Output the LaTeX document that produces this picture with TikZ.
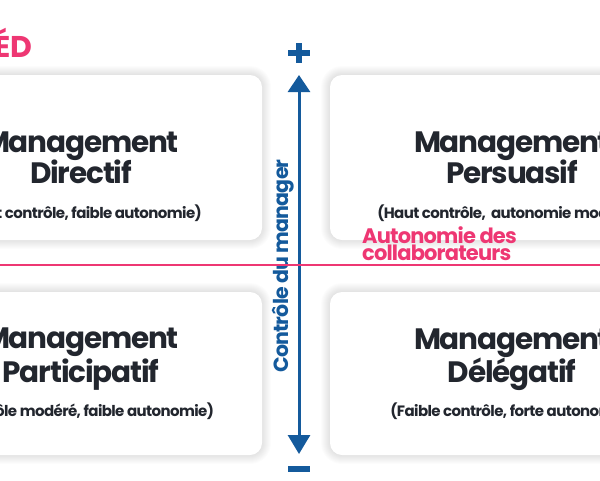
\documentclass[tikz,border=0pt]{standalone}
\usepackage{fontspec}
\setmainfont{Poppins}
\newfontfamily\qtight{Poppins}[LetterSpace=-4]
\usetikzlibrary{arrows.meta}
\definecolor{qblue}{HTML}{145A9C}
\definecolor{qpink}{HTML}{EE3773}
\definecolor{qdark}{HTML}{22262E}
\newcommand{\qshadow}[4]{%
  \foreach \d in {1,...,9}{%
    \pgfmathsetmacro{\qr}{12+\d}%
    \fill[black,opacity=0.011,rounded corners=\qr pt] (#1-\d,#2-\d) rectangle (#3+\d,#4+\d);}}
\tikzset{
  qbox/.style={rectangle, rounded corners=12pt, fill=white, inner sep=0pt, minimum width=290pt},
  ttl/.style={anchor=base, text=qdark, font=\qtight\fontsize{29.5}{31}\selectfont\bfseries, inner sep=0pt},
  sub/.style={anchor=base, text=qdark, font=\qtight\fontsize{15}{16}\selectfont\bfseries, inner sep=0pt},
}
\begin{document}
\begin{tikzpicture}[x=1pt,y=-1pt]
\path[use as bounding box, clip] (0,0) rectangle (600,480);
\fill[white] (0,0) rectangle (600,480);
% shadows
\qshadow{-28}{75}{262}{240}
\qshadow{330}{75}{620}{240}
\qshadow{-28}{292}{262}{455}
\qshadow{330}{292}{620}{455}
% boxes
\node[qbox, minimum height=165pt] (tl) at (117,157.5) {};
\node[qbox, minimum height=165pt] (tr) at (475,157.5) {};
\node[qbox, minimum height=163pt] (bl) at (117,373.5) {};
\node[qbox, minimum height=163pt] (br) at (475,373.5) {};
% titles
\node[ttl] (tla) at (81,152) {Management};
\node[ttl] (tlb) at (81,183) {Directif};
\node[sub] (tlc) at (81,218) {(Haut contrôle, faible autonomie)};
\node[ttl] (tra) at (512,152) {Management};
\node[ttl] (trb) at (512,183) {Persuasif};
\node[sub] (trc) at (512,218) {(Haut contrôle,\ \ autonomie modérée)};
\node[ttl] (bla) at (81,348) {Management};
\node[ttl] (blb) at (81,382) {Participatif};
\node[sub] (blc) at (81,416) {(Contrôle modéré, faible autonomie)};
\node[ttl] (bra) at (512,349) {Management};
\node[ttl] (brb) at (512,382) {Délégatif};
\node[sub] (brc) at (512,416) {(Faible contrôle, forte autonomie)};
% heading fragment
\node[anchor=base east, text=qpink, font=\qtight\fontsize{30}{32}\selectfont\bfseries, inner sep=0pt] (head) at (32,57) {ÉD};
% vertical axis
\coordinate (atop) at (299,75);
\coordinate (abot) at (299,454);
\draw[qblue, line width=3pt, {Triangle[width=22pt,length=19pt]}-{Triangle[width=22pt,length=17pt]}] (abot) -- (atop);
\fill[qblue] (288,50) rectangle (310,56);
\fill[qblue] (296,43) rectangle (302,63);
\fill[qblue] (288,466) rectangle (310,472);
\node[rotate=90, anchor=base, text=qblue, font=\qtight\fontsize{20.5}{22}\selectfont\bfseries, inner sep=0pt] (ylab) at (288,266) {Contrôle du manager};
% horizontal axis
\coordinate (hl) at (0,265);
\coordinate (hr) at (600,265);
\draw[qpink, line width=2.5pt] (hl) -- (hr);
\node[anchor=base west, align=left, text=qpink, font=\qtight\fontsize{21}{17}\selectfont\bfseries, inner sep=0pt] (xlab) at (362,260) {Autonomie des\\collaborateurs};
\end{tikzpicture}
\end{document}
